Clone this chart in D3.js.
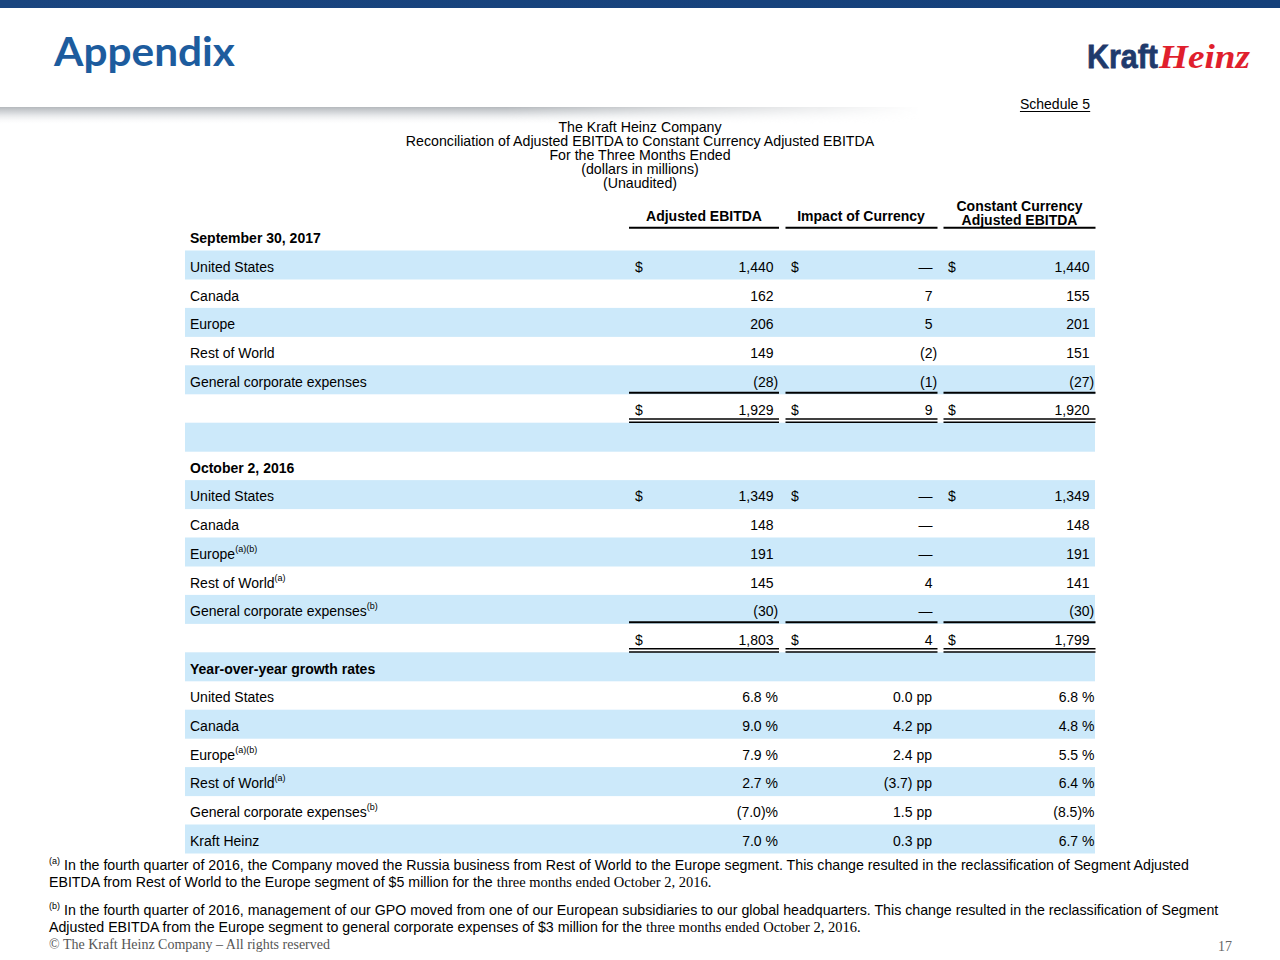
<!DOCTYPE html>
<html>
<head>
<meta charset="utf-8">
<script src="https://cdn.jsdelivr.net/npm/d3@7"></script>
<style>
  html, body { margin: 0; padding: 0; background: #fff; }
  svg { display: block; }
  text { font-family: "Liberation Sans", Arial, sans-serif; fill: #000; }
</style>
</head>
<body>
<svg id="chart" width="1280" height="960"></svg>
<script>
// ---------------- DATA ----------------
const pageTitle = "Appendix";
const scheduleLabel = "Schedule 5";
const titleLines = [
  "The Kraft Heinz Company",
  "Reconciliation of Adjusted EBITDA to Constant Currency Adjusted EBITDA",
  "For the Three Months Ended",
  "(dollars in millions)",
  "(Unaudited)"
];
const columnHeaders = [["Adjusted EBITDA"], ["Impact of Currency"], ["Constant Currency", "Adjusted EBITDA"]];
const sectionTitles = ["September 30, 2017", "October 2, 2016", "Year-over-year growth rates"];

const regions = ["United States", "Canada", "Europe", "Rest of World", "General corporate expenses"];
const notes2017 = ["", "", "", "", ""];
const ebitda2017 = [1440, 162, 206, 149, -28];
const impact2017 = [0, 7, 5, -2, -1];
const constant2017 = [1440, 155, 201, 151, -27];
const totals2017 = [1929, 9, 1920];

const notes2016 = ["", "", "(a)(b)", "(a)", "(b)"];
const ebitda2016 = [1349, 148, 191, 145, -30];
const impact2016 = [0, 0, 0, 4, 0];
const constant2016 = [1349, 148, 191, 141, -30];
const totals2016 = [1803, 4, 1799];

const growthLabels = ["United States", "Canada", "Europe", "Rest of World", "General corporate expenses", "Kraft Heinz"];
const growthNotes = ["", "", "(a)(b)", "(a)", "(b)", ""];
const growthEbitda = [6.8, 9.0, 7.9, 2.7, -7.0, 7.0];
const growthImpact = [0.0, 4.2, 2.4, -3.7, 1.5, 0.3];
const growthConstant = [6.8, 4.8, 5.5, 6.4, -8.5, 6.7];

const footnoteA = [
  "In the fourth quarter of 2016, the Company moved the Russia business from Rest of World to the Europe segment. This change resulted in the reclassification of Segment Adjusted",
  "EBITDA from Rest of World to the Europe segment of $5 million for the ",
  "three months ended October 2, 2016."
];
const footnoteB = [
  "In the fourth quarter of 2016, management of our GPO moved from one of our European subsidiaries to our global headquarters. This change resulted in the reclassification of Segment",
  "Adjusted EBITDA from the Europe segment to general corporate expenses of $3 million for the ",
  "three months ended October 2, 2016."
];
const copyright = "© The Kraft Heinz Company – All rights reserved";
const pageNumber = "17";

// ---------------- BUILD ROWS ----------------
const rows = [];
function addBlock(title, notes, a, b, c, totals) {
  rows.push({ type: "title", label: title });
  regions.forEach((r, i) => rows.push({
    type: "usd", label: r, note: notes[i], vals: [a[i], b[i], c[i]],
    dollar: i === 0, rule: i === regions.length - 1 ? "single" : null
  }));
  rows.push({ type: "usd", label: "", note: "", vals: totals, dollar: true, rule: "double" });
}
addBlock(sectionTitles[0], notes2017, ebitda2017, impact2017, constant2017, totals2017);
rows.push({ type: "blank", label: "" });
addBlock(sectionTitles[1], notes2016, ebitda2016, impact2016, constant2016, totals2016);
rows.push({ type: "title", label: sectionTitles[2] });
growthLabels.forEach((r, i) => rows.push({
  type: "pct", label: r, note: growthNotes[i], vals: [growthEbitda[i], growthImpact[i], growthConstant[i]]
}));

// ---------------- DRAW ----------------
const svg = d3.select("#chart");
const defs = svg.append("defs");

// top bar gradient
const gTop = defs.append("linearGradient").attr("id", "topbar").attr("x1", 0).attr("x2", 1).attr("y1", 0).attr("y2", 0);
gTop.append("stop").attr("offset", 0).attr("stop-color", "#1a457f");
gTop.append("stop").attr("offset", 1).attr("stop-color", "#14407a");
svg.append("rect").attr("x", 0).attr("y", 0).attr("width", 1280).attr("height", 8).attr("fill", "url(#topbar)");

// header shadow
const gSh = defs.append("linearGradient").attr("id", "shadowV").attr("x1", 0).attr("x2", 0).attr("y1", 0).attr("y2", 1);
gSh.append("stop").attr("offset", 0).attr("stop-color", "#b4b8bc").attr("stop-opacity", 1);
gSh.append("stop").attr("offset", 0.35).attr("stop-color", "#d6d9dc").attr("stop-opacity", 0.9);
gSh.append("stop").attr("offset", 1).attr("stop-color", "#ffffff").attr("stop-opacity", 0);
const gMask = defs.append("linearGradient").attr("id", "shadowH").attr("x1", 0).attr("x2", 1).attr("y1", 0).attr("y2", 0);
gMask.append("stop").attr("offset", 0).attr("stop-color", "#fff");
gMask.append("stop").attr("offset", 0.55).attr("stop-color", "#fff");
gMask.append("stop").attr("offset", 1).attr("stop-color", "#000");
defs.append("mask").attr("id", "shmask")
  .append("rect").attr("x", 0).attr("y", 100).attr("width", 920).attr("height", 30).attr("fill", "url(#shadowH)");
svg.append("rect").attr("x", 0).attr("y", 107).attr("width", 920).attr("height", 18)
  .attr("fill", "url(#shadowV)").attr("mask", "url(#shmask)");

// title
svg.append("text").attr("x", 54).attr("y", 66).text(pageTitle)
  .attr("textLength", 181).attr("lengthAdjust", "spacingAndGlyphs")
  .style("font-family", "Lato, 'Open Sans', sans-serif").style("font-weight", 700)
  .style("font-size", "40px").style("fill", "#1d5c9e");

// logo
svg.append("text").attr("x", 1087).attr("y", 68).text("Kraft")
  .attr("textLength", 71).attr("lengthAdjust", "spacingAndGlyphs")
  .style("font-weight", 700).style("font-size", "34px").style("fill", "#1f3a6c")
  .style("stroke", "#1f3a6c").style("stroke-width", 0.8);
svg.append("text").attr("x", 1159).attr("y", 68).text("Heinz")
  .attr("textLength", 91).attr("lengthAdjust", "spacingAndGlyphs")
  .style("font-family", "'Liberation Serif', serif").style("font-style", "italic").style("font-weight", 700)
  .style("font-size", "34px").style("fill", "#e01f2d");

// schedule
const sched = svg.append("text").attr("x", 1090).attr("y", 109).attr("text-anchor", "end")
  .style("font-size", "14px").text(scheduleLabel);
const sb = sched.node().getBBox();
svg.append("line").attr("x1", sb.x).attr("x2", sb.x + sb.width).attr("y1", 111.5).attr("y2", 111.5)
  .attr("stroke", "#000").attr("stroke-width", 1);

// centered title lines
const yTitle = d3.scalePoint().domain(d3.range(titleLines.length)).range([132, 188]);
svg.append("g").selectAll("text").data(titleLines).join("text")
  .attr("x", 640).attr("y", (d, i) => yTitle(i)).attr("text-anchor", "middle")
  .style("font-size", "14.2px").text(d => d);

// columns
const cols = d3.range(3);
const numRight = d3.scaleOrdinal().domain(cols).range([773.5, 932.5, 1089.5]);
const pctRight = d3.scaleOrdinal().domain(cols).range([778, 932, 1094.5]);
const dollarLeft = d3.scaleOrdinal().domain(cols).range([635, 791, 948]);
const ruleL = d3.scaleOrdinal().domain(cols).range([629, 785.5, 943.5]);
const ruleR = d3.scaleOrdinal().domain(cols).range([779, 937.5, 1095.5]);
const headCenter = d3.scaleOrdinal().domain(cols).range([704, 861, 1019.5]);

// column headers
const hg = svg.append("g");
columnHeaders.forEach((lines, c) => {
  lines.forEach((t, k) => {
    const yy = lines.length === 1 ? 221 : (k === 0 ? 211 : 224.5);
    hg.append("text").attr("x", headCenter(c)).attr("y", yy).attr("text-anchor", "middle")
      .style("font-size", "14px").style("font-weight", 700).text(t);
  });
  hg.append("line").attr("x1", ruleL(c)).attr("x2", ruleR(c)).attr("y1", 227.7).attr("y2", 227.7)
    .attr("stroke", "#000").attr("stroke-width", 2);
});

// row scale
const y = d3.scaleBand().domain(d3.range(rows.length)).range([221.8, 853.2]);
const bandColor = "#cce9fa";

const rg = svg.append("g");
rg.selectAll("rect").data(rows).join("rect")
  .attr("x", 185).attr("width", 910)
  .attr("y", (d, i) => y(i)).attr("height", y.bandwidth() + 0.3)
  .attr("fill", (d, i) => i % 2 === 1 ? bandColor : "none");

const fmt = d3.format(",");
const base = i => y(i) + 21.3;

rows.forEach((r, i) => {
  const by = base(i);
  if (r.label) {
    const t = rg.append("text").attr("x", 190).attr("y", by).style("font-size", "14px")
      .style("font-weight", r.type === "title" ? 700 : 400);
    t.append("tspan").text(r.label);
    if (r.note) t.append("tspan").attr("dy", -7).style("font-size", "9px").text(r.note);
  }
  if (r.type === "usd") {
    cols.forEach(c => {
      const v = r.vals[c];
      if (r.dollar) rg.append("text").attr("x", dollarLeft(c)).attr("y", by).style("font-size", "14px").text("$");
      let s;
      if (v === 0) s = "—";
      else if (v < 0) s = "(" + fmt(-v);
      else s = fmt(v);
      rg.append("text").attr("x", numRight(c)).attr("y", by).attr("text-anchor", "end").style("font-size", "14px").text(s);
      if (v < 0) rg.append("text").attr("x", numRight(c)).attr("y", by).style("font-size", "14px").text(")");
      if (r.rule === "single") {
        rg.append("line").attr("x1", ruleL(c)).attr("x2", ruleR(c))
          .attr("y1", y(i) + y.bandwidth() - 1.3).attr("y2", y(i) + y.bandwidth() - 1.3)
          .attr("stroke", "#000").attr("stroke-width", 2);
      }
      if (r.rule === "double") {
        [3.6, 0.4].forEach(off => rg.append("line").attr("x1", ruleL(c)).attr("x2", ruleR(c))
          .attr("y1", y(i) + y.bandwidth() - off).attr("y2", y(i) + y.bandwidth() - off)
          .attr("stroke", "#000").attr("stroke-width", 1.5));
      }
    });
  }
  if (r.type === "pct") {
    cols.forEach(c => {
      const v = r.vals[c];
      let s;
      if (c === 1) s = v < 0 ? "(" + Math.abs(v).toFixed(1) + ") pp" : v.toFixed(1) + " pp";
      else s = v < 0 ? "(" + Math.abs(v).toFixed(1) + ")%" : v.toFixed(1) + " %";
      rg.append("text").attr("x", pctRight(c)).attr("y", by).attr("text-anchor", "end").style("font-size", "14px").text(s);
    });
  }
});

// footnotes
const fg = svg.append("g");
function footnote(mark, lines, y1, y2) {
  const t1 = fg.append("text").attr("x", 49).attr("y", y1).style("font-size", "14.2px");
  t1.append("tspan").attr("dy", -6).style("font-size", "9px").text(mark);
  t1.append("tspan").attr("dy", 6).text(" " + lines[0]);
  const t2 = fg.append("text").attr("x", 49).attr("y", y2).style("font-size", "14.2px");
  t2.append("tspan").text(lines[1]);
  t2.append("tspan").style("font-family", "'Liberation Serif', serif").style("font-size", "14.5px").text(lines[2]);
}
footnote("(a)", footnoteA, 870, 887);
footnote("(b)", footnoteB, 915, 932);

svg.append("text").attr("x", 49).attr("y", 949).style("font-family", "'Liberation Serif', serif")
  .style("font-size", "14px").style("fill", "#555").text(copyright);
svg.append("text").attr("x", 1232).attr("y", 951).attr("text-anchor", "end").style("font-family", "'Liberation Serif', serif")
  .style("font-size", "14px").style("fill", "#666").text(pageNumber);
</script>
</body>
</html>
